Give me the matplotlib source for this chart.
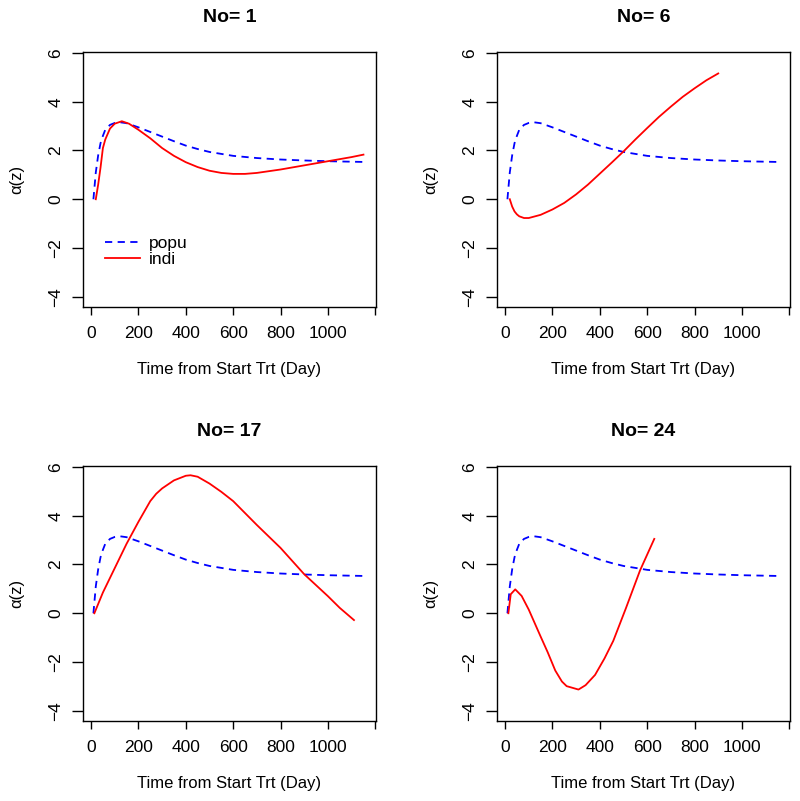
import matplotlib
matplotlib.use("Agg")
import matplotlib.pyplot as plt

plt.rcParams['font.family'] = ['Liberation Sans', 'DejaVu Sans']

# population curve (same in every panel)
popu_x = [10, 20, 30, 40, 50, 60, 80, 100, 120, 150, 200, 250, 300, 350,
          400, 450, 500, 600, 700, 800, 900, 1000, 1100, 1150]
popu_y = [0, 1.1, 1.8, 2.3, 2.6, 2.85, 3.05, 3.13, 3.16, 3.12, 2.95, 2.76,
          2.57, 2.38, 2.2, 2.06, 1.94, 1.78, 1.69, 1.63, 1.59, 1.56, 1.54,
          1.53]

# individual curves
ids = [1, 6, 17, 24]
indi_x = [
    [20, 30, 40, 50, 60, 80, 100, 130, 160, 200, 250, 300, 350, 400, 450,
     500, 550, 600, 650, 700, 800, 900, 1000, 1100, 1150],
    [20, 30, 40, 50, 60, 80, 100, 150, 200, 250, 300, 350, 400, 450, 500,
     550, 600, 650, 700, 750, 800, 850, 900],
    [14, 50, 100, 150, 200, 250, 275, 300, 350, 400, 420, 450, 500, 550, 600,
     700, 800, 900, 1000, 1050, 1110],
    [14, 24, 43, 70, 100, 149, 180, 212, 240, 260, 310, 340, 380, 420, 457,
     510, 570, 630],
]
indi_y = [
    [0, 0.6, 1.3, 2.1, 2.45, 2.9, 3.1, 3.2, 3.1, 2.85, 2.5, 2.1, 1.78, 1.52,
     1.32, 1.17, 1.08, 1.04, 1.04, 1.08, 1.22, 1.39, 1.56, 1.73, 1.83],
    [0, -0.3, -0.5, -0.62, -0.7, -0.77, -0.77, -0.64, -0.42, -0.15, 0.2,
     0.6, 1.05, 1.5, 1.96, 2.45, 2.92, 3.38, 3.8, 4.2, 4.55, 4.88, 5.16],
    [0, 0.85, 1.85, 2.85, 3.75, 4.6, 4.9, 5.12, 5.45, 5.64, 5.66, 5.6, 5.32,
     4.98, 4.6, 3.62, 2.68, 1.6, 0.7, 0.22, -0.28],
    [0, 0.78, 0.98, 0.71, 0.15, -0.93, -1.6, -2.35, -2.8, -2.99, -3.13,
     -2.95, -2.53, -1.85, -1.13, 0.2, 1.76, 3.05],
]

xticks = [0, 200, 400, 600, 800, 1000, 1200]
xticklabels = ['0', '200', '400', '600', '800', '1000', '']
yticks = [-4, -2, 0, 2, 4, 6]

fig = plt.figure(figsize=(8.0, 8.01), dpi=100)
W, H = 800.0, 801.0
boxes = [(83, 52), (497, 52), (83, 466), (497, 466)]
bw, bh = 293, 255

for k, (left, top) in enumerate(boxes):
    ax = fig.add_axes([left / W, 1 - (top + bh) / H, bw / W, bh / H])
    ax.plot(popu_x, popu_y, color='#0000FF', lw=1.3, dashes=(4, 3),
            label='popu')
    ax.plot(indi_x[k], indi_y[k], color='#FF0000', lw=1.3, label='indi')
    ax.set_xlim(-34, 1203)
    ax.set_ylim(-4.42, 6.04)
    ax.set_xticks(xticks)
    ax.set_xticklabels(xticklabels)
    ax.set_yticks(yticks)
    ax.tick_params(axis='y', length=8, width=1, labelsize=12.5, pad=6,
                   labelrotation=90)
    ax.tick_params(axis='x', length=6, width=1, labelsize=12.5, pad=8)
    for lab in ax.get_yticklabels():
        lab.set_va('center')
    for sp in ax.spines.values():
        sp.set_linewidth(1.0)
    ax.set_xlabel('Time from Start Trt (Day)', fontsize=12)
    ax.xaxis.set_label_coords(0.5, -0.245)
    ax.xaxis.label.set_va('center')
    ax.set_ylabel('α(z)', fontsize=12)
    ax.yaxis.set_label_coords(-0.225, 0.5)
    ax.yaxis.label.set_va('center')
    ax.text(0.5, 1.137, 'No= %d' % ids[k], transform=ax.transAxes,
            fontsize=14, fontweight='bold', ha='center', va='center')
    if k == 0:
        ax.legend(loc='center left', bbox_to_anchor=(0.075, 0.218),
                  frameon=False, fontsize=12.5, handlelength=2.0,
                  handletextpad=0.55, labelspacing=0.05, borderpad=0,
                  borderaxespad=0)

fig.savefig('out.png', dpi=100)
